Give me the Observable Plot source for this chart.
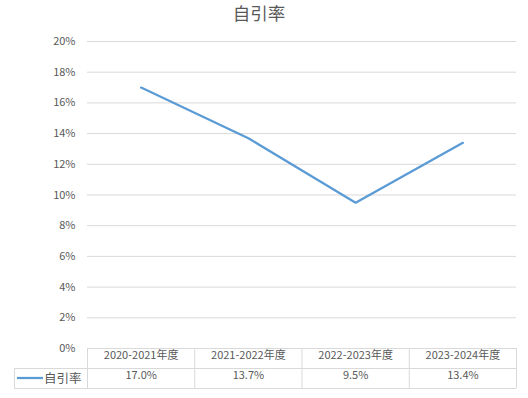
<!DOCTYPE html>
<html><head><meta charset="utf-8">
<script src="https://cdn.jsdelivr.net/npm/d3@7"></script>
<script src="https://cdn.jsdelivr.net/npm/@observablehq/plot@0.6"></script>
<style>body{margin:0;background:#fff}</style>
</head><body><div id="chart"></div>
<script>
const title = "自引率";
const seriesName = "自引率";
const categories = ["2020-2021年度", "2021-2022年度", "2022-2023年度", "2023-2024年度"];
const values = [0.170, 0.137, 0.095, 0.134];
const valueLabels = ["17.0%", "13.7%", "9.5%", "13.4%"];
const yTicks = [0, 0.02, 0.04, 0.06, 0.08, 0.10, 0.12, 0.14, 0.16, 0.18, 0.20];

const data = categories.map((c, i) => ({i, c, v: values[i], label: valueLabels[i]}));
const font = `"Noto Sans CJK SC", "Microsoft YaHei", sans-serif`;
const textColor = "#595959";
const gridColor = "#d9d9d9";
const lineColor = "#5b9bd5";

const tableMark = (index, scales, vals, dims) => {
  const x = scales.x;
  const g = d3.create("svg:g");
  const top = dims.height - dims.marginBottom;
  const rowH = 20;
  const legendLeft = 14;
  const right = dims.width - dims.marginRight;
  const edges = d3.range(categories.length + 1).map(k => x(k - 0.5));
  const hl = [[edges[0], top], [legendLeft, top + rowH], [legendLeft, top + 2 * rowH]];
  for (const [x1, y] of hl) {
    g.append("line").attr("x1", x1).attr("x2", right).attr("y1", y + 0.5).attr("y2", y + 0.5)
      .attr("stroke", gridColor);
  }
  for (const e of edges) {
    g.append("line").attr("x1", e + 0.5).attr("x2", e + 0.5).attr("y1", top).attr("y2", top + 2 * rowH)
      .attr("stroke", gridColor);
  }
  g.append("line").attr("x1", legendLeft + 0.5).attr("x2", legendLeft + 0.5)
    .attr("y1", top + rowH).attr("y2", top + 2 * rowH).attr("stroke", gridColor);
  // legend swatch
  g.append("line").attr("x1", legendLeft + 3).attr("x2", legendLeft + 29)
    .attr("y1", top + rowH * 1.5).attr("y2", top + rowH * 1.5)
    .attr("stroke", lineColor).attr("stroke-width", 2.25);
  g.append("text").attr("x", legendLeft + 30).attr("y", top + rowH * 1.5).attr("dy", "0.36em")
    .attr("text-anchor", "start")
    .attr("font-size", 12.5).attr("fill", textColor).text(seriesName);
  // title
  g.append("text").attr("x", dims.width / 2 - 5).attr("y", 14).attr("dy", "0.36em")
    .attr("text-anchor", "middle").attr("font-size", 17.5).attr("fill", textColor).text(title);
  return g.node();
};

const plot = Plot.plot({
  width: 528,
  height: 398,
  marginTop: 41,
  marginBottom: 50,
  marginLeft: 87,
  marginRight: 12,
  style: {fontFamily: font, color: textColor, background: "#fff"},
  x: {domain: [-0.5, categories.length - 0.5], axis: null},
  y: {domain: [0, 0.2], axis: null},
  marks: [
    Plot.gridY(yTicks, {stroke: gridColor, strokeOpacity: 1}),
    Plot.axisY(yTicks, {tickFormat: d3.format(".0%"), tickSize: 0, tickPadding: 12, fontSize: 11, fill: textColor, label: null}),
    Plot.line(data, {x: "i", y: "v", stroke: lineColor, strokeWidth: 2.25, strokeLinejoin: "round"}),
    Plot.text(data, {x: "i", text: "c", frameAnchor: "bottom", dy: 10, fontSize: 11, fill: textColor}),
    Plot.text(data, {x: "i", text: "label", frameAnchor: "bottom", dy: 30, fontSize: 11, fill: textColor}),
    tableMark
  ]
});
document.getElementById("chart").appendChild(plot);
</script>
</body></html>
